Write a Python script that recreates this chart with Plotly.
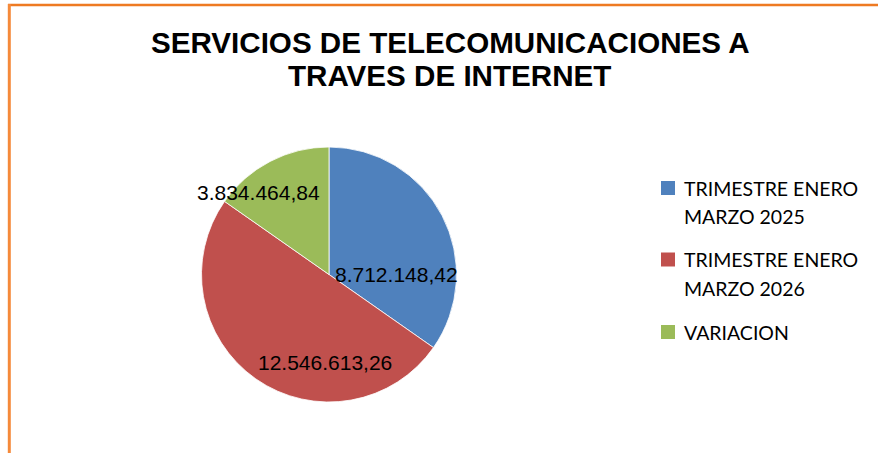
import plotly.graph_objects as go

# ---- data ----
categories = ["TRIMESTRE ENERO MARZO 2025", "TRIMESTRE ENERO MARZO 2026", "VARIACION"]
legend_lines = [["TRIMESTRE ENERO", "MARZO 2025"], ["TRIMESTRE ENERO", "MARZO 2026"], ["VARIACION"]]
values = [8712148.42, 12546613.26, 3834464.84]
colors = ["#4F81BD", "#C0504D", "#9BBB59"]
title_lines = ["SERVICIOS DE TELECOMUNICACIONES A", "TRAVES DE INTERNET"]

W, H = 878, 453


def fmt(v):
    s = f"{v:,.2f}"
    return s.replace(",", "X").replace(".", ",").replace("X", ".")


def px(x):
    return x / W


def py(y):
    return 1 - y / H


# pie geometry (pixels)
cx, cy, R = 329, 274.5, 127.5

fig = go.Figure(
    go.Pie(
        labels=categories,
        values=values,
        sort=False,
        direction="clockwise",
        rotation=0,
        marker=dict(colors=colors, line=dict(color="white", width=0.8)),
        textinfo="none",
        hoverinfo="label+value",
        showlegend=False,
        domain=dict(x=[px(cx - R), px(cx + R)], y=[py(cy + R), py(cy - R)]),
    )
)

annotations = []
# title
title_pos = [(450, 42.5), (449.5, 76)]
for t, (x, y) in zip(title_lines, title_pos):
    annotations.append(dict(
        text=f"<b>{t}</b>", x=px(x), y=py(y), xref="paper", yref="paper",
        xanchor="center", yanchor="middle", showarrow=False,
        font=dict(family="Liberation Sans, Arial", size=29.6, color="black"),
    ))

# data labels
label_pos = [(396.5, 274.7), (325, 362.5), (258, 192.5)]
for v, (x, y) in zip(values, label_pos):
    annotations.append(dict(
        text=fmt(v), x=px(x), y=py(y), xref="paper", yref="paper",
        xanchor="center", yanchor="middle", showarrow=False,
        font=dict(family="Liberation Sans, Arial", size=21, color="black"),
    ))

# manual legend
shapes = []
square_centers = [188, 259.5, 332]
line_pitch = 28.5
for lines, col, sc in zip(legend_lines, colors, square_centers):
    shapes.append(dict(type="rect", xref="paper", yref="paper",
                       x0=px(661), x1=px(675), y0=py(sc + 7), y1=py(sc - 7),
                       fillcolor=col, line=dict(width=0)))
    for i, ln in enumerate(lines):
        annotations.append(dict(
            text=ln, x=px(682), y=py(sc + i * line_pitch), xref="paper", yref="paper",
            xanchor="left", yanchor="middle", align="left", showarrow=False,
            font=dict(family="Lato, Carlito, Calibri", size=19.5, color="black"),
        ))

# orange frame (top and left)
shapes.append(dict(type="line", xref="paper", yref="paper",
                   x0=px(8), x1=1.0, y0=py(5), y1=py(5),
                   line=dict(color="#EE7A22", width=2.5)))
shapes.append(dict(type="line", xref="paper", yref="paper",
                   x0=px(9.3), x1=px(9.3), y0=py(4), y1=0,
                   line=dict(color="#F58A3A", width=3)))

fig.update_layout(
    width=W, height=H, autosize=False,
    margin=dict(l=0, r=0, t=0, b=0),
    paper_bgcolor="white", plot_bgcolor="white",
    annotations=annotations, shapes=shapes,
)

fig.write_html(
    "out.html",
    config={"displayModeBar": False},
    post_script="document.body.style.margin='0';document.body.style.overflow='hidden';",
)
